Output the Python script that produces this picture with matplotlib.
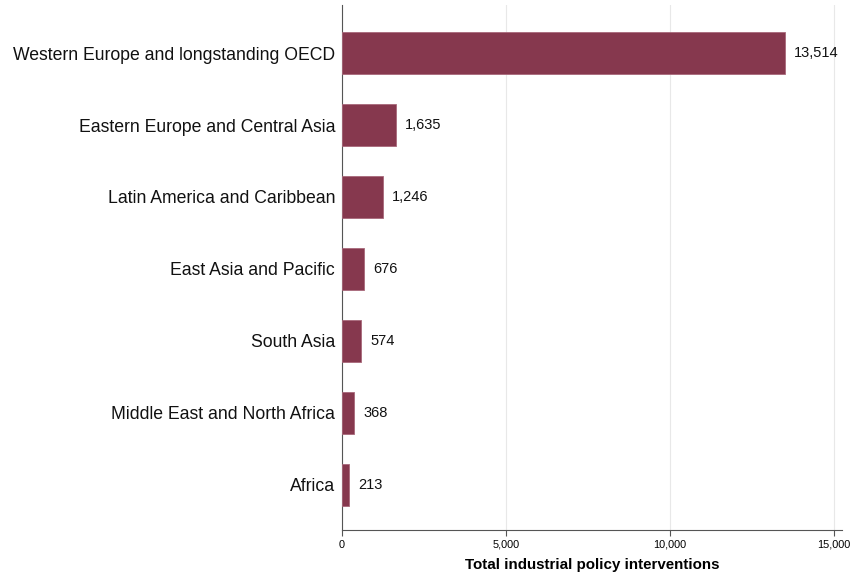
import matplotlib.pyplot as plt

regions = ['Western Europe and longstanding OECD', 'Eastern Europe and Central Asia',
           'Latin America and Caribbean', 'East Asia and Pacific', 'South Asia',
           'Middle East and North Africa', 'Africa']
interventions = [13514, 1635, 1246, 676, 574, 368, 213]
xticks = [0, 5000, 10000, 15000]

plt.rcParams['font.family'] = ['Liberation Sans', 'DejaVu Sans']

fig = plt.figure(figsize=(8.65, 5.74), dpi=100)
ax = fig.add_axes([0.3954, 0.0767, 0.578, 0.9147])

ypos = list(range(len(regions)))
ax.barh(ypos, interventions, height=0.58, color='#86384e', edgecolor='#a8687a', linewidth=0.6, zorder=3)
for y, v in zip(ypos, interventions):
    ax.text(v + 280, y, f'{v:,}', va='center', ha='left', fontsize=10.5, color='#111111')

ax.set_yticks(ypos)
ax.set_yticklabels(regions, fontsize=12.7, color='#111111')
ax.set_ylim(len(regions) - 1 + 0.63, -0.67)
ax.set_xlim(0, 15250)
ax.set_xticks(xticks)
ax.set_xticklabels([f'{t:,}' for t in xticks], fontsize=7.8)
ax.set_xlabel('Total industrial policy interventions', fontsize=10.9, fontweight='bold', labelpad=6)

ax.grid(axis='x', color='#e8e8e8', linewidth=0.8, zorder=0)
for s in ['top', 'right']:
    ax.spines[s].set_visible(False)
ax.spines['left'].set_color('#555555')
ax.spines['bottom'].set_color('#555555')
ax.tick_params(axis='y', length=0, pad=5)
ax.tick_params(axis='x', length=4, color='#555555', pad=3)

plt.savefig('out.png', dpi=100)
